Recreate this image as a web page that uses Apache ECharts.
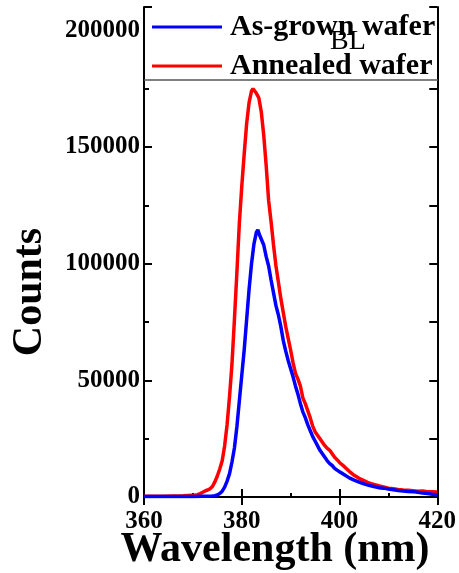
<!DOCTYPE html>
<html>
<head>
<meta charset="utf-8">
<script src="https://cdn.jsdelivr.net/npm/echarts@6/dist/echarts.min.js"></script>
<style>
html,body{margin:0;padding:0;background:#fff;}
#chart{width:459px;height:573px;}
</style>
</head>
<body>
<div id="chart"></div>
<script>
// Wavelength (nm) and counts for each curve
const asGrownX = [360,362,364,366,368,370,372,373,374,374.5,375,375.5,376,376.5,377,377.5,378,378.5,379,379.5,380,380.5,381,381.5,382,382.5,383,383.3,383.6,384,384.5,385,385.5,386,386.5,387,387.5,388,388.5,389,389.5,390,390.5,391,391.5,392,392.5,393,393.5,394,394.5,395,395.5,396,396.5,397,397.5,398,398.5,399,399.5,400,401,402,403,404,405,406,407,408,409,410,411,412,413,414,415,416,417,418,419,420];
const asGrownY = [200,200,200,200,200,200,300,350,400,600,900,1500,2500,4200,6800,10000,15000,21000,30000,41000,52000,63000,76000,89000,100000,108500,113500,114500,112500,113000,108000,103000,99000,93000,87500,82000,78000,73000,67000,62500,58500,55000,51500,47500,44000,40000,36500,34000,31000,28500,26000,24000,22000,20000,18500,17000,15500,14300,13500,12300,11500,10800,9500,8200,7200,6400,5600,5000,4500,4000,3800,3400,3100,2800,2600,2400,2300,2000,1700,1500,1200,900];
const annealedX = [360,362,364,366,368,370,371,371.5,372,372.5,373,373.5,374,374.5,375,375.5,376,376.5,377,377.5,378,378.5,379,379.5,380,380.5,381,381.5,382,382.3,382.6,383,383.5,384,384.5,385,385.5,386,386.5,387,387.5,388,388.5,389,389.5,390,390.5,391,391.5,392,392.5,393,393.5,394,394.5,395,395.5,396,396.5,397,397.5,398,398.5,399,399.5,400,401,402,403,404,405,406,407,408,409,410,411,412,413,414,415,416,417,418,419,420];
const annealedY = [300,300,300,400,500,700,1000,1500,2000,2600,3000,3500,4500,6500,9000,12000,15500,22000,31000,43000,57000,76000,96000,117000,133000,147000,160000,169000,174000,175000,174500,173000,171000,165000,155000,142000,127000,118000,108000,99000,92000,85000,79000,73000,68000,63000,57500,53000,50500,47500,42500,40000,37000,34000,30500,28000,26500,25000,23500,22000,20800,20000,18500,17000,16000,14800,13000,11000,9300,8000,7000,6000,5400,4800,4300,3800,3500,3200,3000,2900,2700,2500,2600,2300,2200,2100];
const seriesNames = ['As-grown wafer', 'Annealed wafer'];
const xTicks = [360, 380, 400, 420];
const yTicks = [0, 50000, 100000, 150000, 200000];

const FONT = '"Liberation Serif", "Times New Roman", serif';
const pairs = (xs, ys) => xs.map((x, i) => [x, ys[i]]);

const chart = echarts.init(document.getElementById('chart'), null, {renderer: 'canvas'});
const axisStyle = {lineStyle: {color: '#000', width: 2}};
const option = {
  animation: false,
  backgroundColor: '#fff',
  grid: {left: 144, right: 21, top: 7, bottom: 76, containLabel: false},
  xAxis: [
    {type: 'value', min: xTicks[0], max: xTicks[xTicks.length - 1], interval: xTicks[1] - xTicks[0],
     axisLine: axisStyle, splitLine: {show: false},
     axisTick: {inside: true, length: 8, lineStyle: {color: '#000', width: 2}},
     minorTick: {show: true, splitNumber: 2, length: 4, lineStyle: {color: '#000', width: 2}},
     axisLabel: {fontFamily: FONT, fontWeight: 'bold', fontSize: 25, color: '#000', margin: 12}},
    {type: 'value', position: 'top', min: xTicks[0], max: xTicks[xTicks.length - 1], interval: xTicks[1] - xTicks[0],
     axisLine: axisStyle, splitLine: {show: false}, axisLabel: {show: false},
     axisTick: {inside: true, length: 8, lineStyle: {color: '#000', width: 2}}}
  ],
  yAxis: [
    {type: 'value', min: 0, max: 210000, interval: yTicks[1] - yTicks[0],
     axisLine: {show: true, lineStyle: {color: '#000', width: 2}}, splitLine: {show: false},
     axisTick: {show: true, inside: true, length: 8, lineStyle: {color: '#000', width: 2}},
     minorTick: {show: true, splitNumber: 2, length: 5, lineStyle: {color: '#000', width: 2}},
     axisLabel: {fontFamily: FONT, fontWeight: 'bold', fontSize: 25, color: '#000', margin: 4, showMaxLabel: false,
                 formatter: v => String(v)}},
    {type: 'value', position: 'right', min: 0, max: 210000, interval: yTicks[1] - yTicks[0],
     axisLine: {show: true, lineStyle: {color: '#000', width: 2}}, splitLine: {show: false}, axisLabel: {show: false},
     axisTick: {show: true, inside: true, length: 8, lineStyle: {color: '#000', width: 2}},
     minorTick: {show: true, splitNumber: 2, length: 8, lineStyle: {color: '#000', width: 2}}}
  ],
  legend: {
    orient: 'vertical', left: 147, top: 6, z: 20,
    itemWidth: 70, itemHeight: 3, itemGap: 7, icon: 'rect',
    data: seriesNames,
    textStyle: {fontFamily: FONT, fontWeight: 'bold', fontSize: 30, color: '#000', lineHeight: 32, padding: [0, 0, 0, 3]}
  },
  graphic: [
    {type: 'rect', z: 10, shape: {x: 145, y: 8, width: 292, height: 72}, style: {fill: '#fff'}},
    {type: 'line', z: 11, shape: {x1: 144, y1: 80, x2: 438, y2: 80}, style: {stroke: '#555', lineWidth: 1.5}},
    {type: 'text', z: 30, left: 330, top: 28, style: {text: 'BL', font: '28px ' + FONT, fill: '#000'}},
    {type: 'text', z: 30, x: 30, y: 292, rotation: Math.PI / 2,
     style: {text: 'Counts', font: 'bold 42px ' + FONT, fill: '#000', align: 'center', verticalAlign: 'middle'}},
    {type: 'text', z: 30, x: 275, y: 550,
     style: {text: 'Wavelength (nm)', font: 'bold 42px ' + FONT, fill: '#000', align: 'center', verticalAlign: 'middle'}}
  ],
  series: [
    {name: seriesNames[0], type: 'line', data: pairs(asGrownX, asGrownY), showSymbol: false, symbol: 'none',
     lineStyle: {color: '#0000ff', width: 3.5}, itemStyle: {color: '#0000ff'}, z: 3},
    {name: seriesNames[1], type: 'line', data: pairs(annealedX, annealedY), showSymbol: false, symbol: 'none',
     lineStyle: {color: '#ff0000', width: 3.5}, itemStyle: {color: '#ff0000'}, z: 2}
  ]
};
chart.setOption(option);
</script>
</body>
</html>
